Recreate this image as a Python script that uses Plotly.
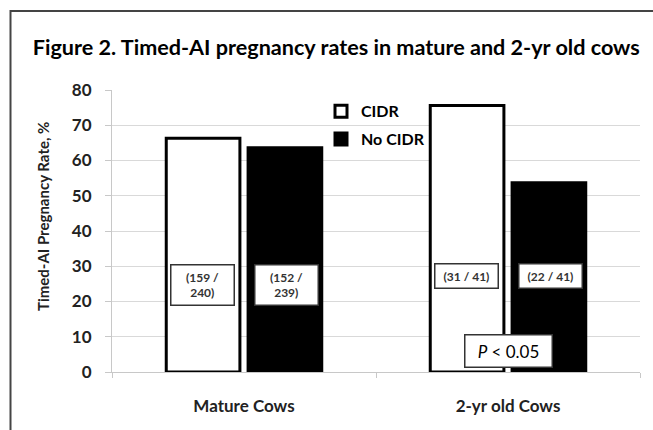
import plotly.graph_objects as go

categories = ["Mature Cows", "2-yr old Cows"]
cidr_values = [66.3, 75.6]
no_cidr_values = [63.6, 53.7]
cidr_counts = ["(159 /<br>240)", "(31 / 41)"]
no_cidr_counts = ["(152 /<br>239)", "(22 / 41)"]
count_label_y = [24.8, 27.3]
y_ticks = [0, 10, 20, 30, 40, 50, 60, 70, 80]
p_label = "<i>P</i> < 0.05"
p_label_y = 6

FONT = "Lato"

fig = go.Figure()
fig.add_trace(go.Bar(
    x=categories, y=cidr_values, name="CIDR", legendgroup="a",
    marker=dict(color="white", line=dict(color="black", width=3)),
))
fig.add_trace(go.Bar(
    x=categories, y=no_cidr_values, name="No CIDR", legendgroup="b",
    marker=dict(color="black", line=dict(color="black", width=3)),
))

annotations = []
for i, cat in enumerate(categories):
    for txt, shift in ((cidr_counts[i], -42), (no_cidr_counts[i], 42)):
        annotations.append(dict(
            x=cat, y=count_label_y[i], xref="x", yref="y", text=txt,
            showarrow=False, xshift=shift, bgcolor="white",
            bordercolor="#333333", borderwidth=1.5, borderpad=4,
            font=dict(family=FONT, size=12, color="#333333", weight="bold"),
            align="center", width=54,
        ))
annotations.append(dict(
    x=categories[1], y=p_label_y, xref="x", yref="y", text=p_label,
    showarrow=False, bgcolor="white", bordercolor="#333333", borderwidth=1.5,
    borderpad=5, width=76,
    font=dict(family=FONT, size=17, color="black"),
))
annotations.append(dict(
    x=(43 - 112) / 528, y=(372 - 217) / 282, xref="paper", yref="paper",
    text="<b>Timed-AI Pregnancy Rate, %</b>", textangle=-90, showarrow=False,
    xanchor="center", yanchor="middle",
    font=dict(family=FONT, size=15, color="#222222"),
))

fig.update_layout(
    width=653, height=430,
    margin=dict(l=112, r=13, t=90, b=58),
    paper_bgcolor="white", plot_bgcolor="white",
    barmode="group", bargap=0.38, bargroupgap=0.1,
    title=dict(
        text="<b>Figure 2. Timed-AI pregnancy rates in mature and 2-yr old cows</b>",
        x=0.515, xanchor="center", xref="container",
        y=1 - 47 / 430, yanchor="middle", yref="container",
        font=dict(family=FONT, size=21.6, color="black"),
    ),
    legend=dict(
        x=(321 - 112) / 528, y=0.985, xanchor="left", yanchor="top",
        bgcolor="rgba(0,0,0,0)", tracegroupgap=4,
        font=dict(family=FONT, size=16, color="black", weight="bold"),
        itemwidth=30,
    ),
    yaxis=dict(
        range=[0, 80], tickvals=y_ticks, showgrid=True, gridcolor="#d9d9d9",
        gridwidth=1, showline=True, linecolor="#c8c8c8", linewidth=1,
        ticks="outside", ticklen=6, tickcolor="#c8c8c8",
        ticklabelstandoff=10, zeroline=False,
        tickfont=dict(family=FONT, size=17, color="#222222", weight="bold"),
    ),
    xaxis=dict(
        showline=True, linecolor="#c8c8c8", linewidth=1,
        ticks="outside", tickson="boundaries", ticklen=5, tickcolor="#c8c8c8",
        ticklabelstandoff=19,
        tickfont=dict(family=FONT, size=17, color="#222222", weight="bold"),
    ),
    annotations=annotations,
    shapes=[dict(
        type="rect", xref="paper", yref="paper",
        x0=(10.5 - 112) / 528, x1=1.2, y0=-0.3, y1=(372 - 11) / 282,
        line=dict(color="#444444", width=2), fillcolor="rgba(0,0,0,0)",
        layer="below",
    )],
)

fig.write_html("out.html", config={"displayModeBar": False},
               post_script="document.body.style.margin='0';")
